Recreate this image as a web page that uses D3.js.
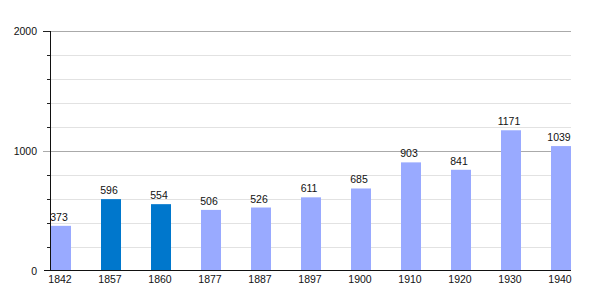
<!DOCTYPE html>
<html>
<head>
<meta charset="utf-8">
<script src="https://cdn.jsdelivr.net/npm/d3@7"></script>
<style>
  body { margin: 0; background: #fff; }
  svg text { font-family: "Liberation Sans", Arial, sans-serif; font-size: 10.5px; fill: #111; }
</style>
</head>
<body>
<div id="chart"></div>
<script>
// Données : population par année de recensement
const years = ["1842", "1857", "1860", "1877", "1887", "1897", "1900", "1910", "1920", "1930", "1940"];
const population = [373, 596, 554, 506, 526, 611, 685, 903, 841, 1171, 1039];
const highlighted = ["1857", "1860"];
const yMajorTicks = [0, 1000, 2000];
const yMinorTicks = [200, 400, 600, 800, 1200, 1400, 1600, 1800];

const width = 600, height = 300;
const svg = d3.select("#chart")
    .append("svg")
    .attr("width", width)
    .attr("height", height);

const xScale = d3.scaleBand()
    .domain(years)
    .range([51, 571])
    .paddingInner(0.6)
    .paddingOuter(0);

const yScale = d3.scaleLinear()
    .domain([0, 2000])
    .range([270.5, 31]);

// lignes de grille
svg.selectAll("line.minor")
    .data(yMinorTicks)
    .enter()
    .append("line")
    .attr("x1", 50).attr("x2", 571)
    .attr("y1", d => Math.round(yScale(d)) + 0.5)
    .attr("y2", d => Math.round(yScale(d)) + 0.5)
    .attr("stroke", "#e2e2e2");

svg.selectAll("line.major")
    .data(yMajorTicks.filter(d => d > 0))
    .enter()
    .append("line")
    .attr("x1", 43).attr("x2", 571)
    .attr("y1", d => Math.round(yScale(d)) + 0.5)
    .attr("y2", d => Math.round(yScale(d)) + 0.5)
    .attr("stroke", "#aaa");

// petites graduations à gauche
svg.selectAll("line.mtick")
    .data(yMinorTicks)
    .enter()
    .append("line")
    .attr("x1", 47).attr("x2", 50)
    .attr("y1", d => Math.round(yScale(d)) + 0.5)
    .attr("y2", d => Math.round(yScale(d)) + 0.5)
    .attr("stroke", "#222");

svg.append("line")
    .attr("x1", 43).attr("x2", 50)
    .attr("y1", Math.round(yScale(2000)) + 0.5)
    .attr("y2", Math.round(yScale(2000)) + 0.5)
    .attr("stroke", "#222");

// barres
svg.selectAll("rect")
    .data(years)
    .enter()
    .append("rect")
    .attr("x", d => xScale(d))
    .attr("y", (d, i) => yScale(population[i]))
    .attr("width", xScale.bandwidth())
    .attr("height", (d, i) => yScale(0) - yScale(population[i]))
    .attr("fill", d => highlighted.includes(d) ? "#0077cc" : "#99aaff");

// valeurs au-dessus des barres
svg.selectAll("text.value")
    .data(years)
    .enter()
    .append("text")
    .attr("x", d => xScale(d) + xScale.bandwidth() / 2 - 2)
    .attr("y", (d, i) => yScale(population[i]) - 5)
    .attr("text-anchor", "middle")
    .text((d, i) => population[i]);

// axes
svg.append("line")
    .attr("x1", 50.5).attr("x2", 50.5)
    .attr("y1", 31).attr("y2", 271)
    .attr("stroke", "#111");

svg.append("line")
    .attr("x1", 44).attr("x2", 571)
    .attr("y1", 270.5).attr("y2", 270.5)
    .attr("stroke", "#111");

svg.selectAll("text.ylab")
    .data(yMajorTicks)
    .enter()
    .append("text")
    .attr("x", 37)
    .attr("y", d => yScale(d) + 4)
    .attr("text-anchor", "end")
    .text(d => d);

svg.selectAll("text.xlab")
    .data(years)
    .enter()
    .append("text")
    .attr("x", d => xScale(d) + xScale.bandwidth() / 2 - 1)
    .attr("y", 283)
    .attr("text-anchor", "middle")
    .text(d => d);
</script>
</body>
</html>
